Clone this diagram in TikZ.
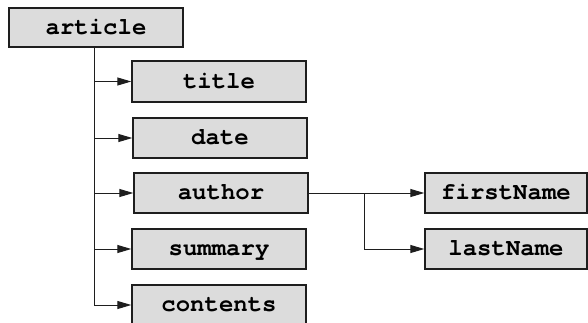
\documentclass[tikz,border=0pt]{standalone}
\usepackage{fontspec}
\setmonofont{texgyrecursor}[Extension=.otf,
  UprightFont=*-regular, BoldFont=*-bold,
  Ligatures={NoCommon,NoRequired,NoContextual}]
\usetikzlibrary{arrows.meta}
\definecolor{boxfill}{HTML}{DCDCDC}
\definecolor{boxline}{HTML}{1E1E1E}

\begin{document}
\begin{tikzpicture}[x=1pt,y=-1pt,
  elem/.style={draw=boxline, line width=1.4pt, fill=boxfill,
    minimum width=174pt, minimum height=40pt, inner sep=0pt,
    font=\fontsize{24}{24}\selectfont\ttfamily\bfseries,
    text height=15pt, text depth=2pt},
  link/.style={line width=1pt, draw=boxline,
    -{Triangle[length=14pt,width=8pt]}},
  wire/.style={line width=1pt, draw=boxline}]
  \useasboundingbox (0,0) rectangle (588,322);

  % element boxes
  \node[elem, minimum height=39pt] (article) at (96,27.5) {article};
  \node[elem, minimum height=41pt] (title)   at (219,81.5) {title};
  \node[elem] (date)     at (220,138) {date};
  \node[elem] (author)   at (221,193) {author};
  \node[elem] (summary)  at (219,249) {summary};
  \node[elem] (contents) at (219,305) {contents};
  \node[elem, minimum width=162pt] (firstName) at (506,193) {firstName};
  \node[elem, minimum width=162pt] (lastName)  at (506,249) {lastName};

  % trunk under the root element
  \coordinate (trunk) at (94,0);
  \draw[link] (article.south -| trunk) |- (contents.west);
  \foreach \child in {title,date,author,summary}
    \draw[link] (\child.west -| trunk) -- (\child.west);

  % author's children
  \coordinate (fork) at (364,0);
  \draw[link] (author.east) -- (firstName.west);
  \draw[link] (author.east -| fork) |- (lastName.west);
\end{tikzpicture}
\end{document}
